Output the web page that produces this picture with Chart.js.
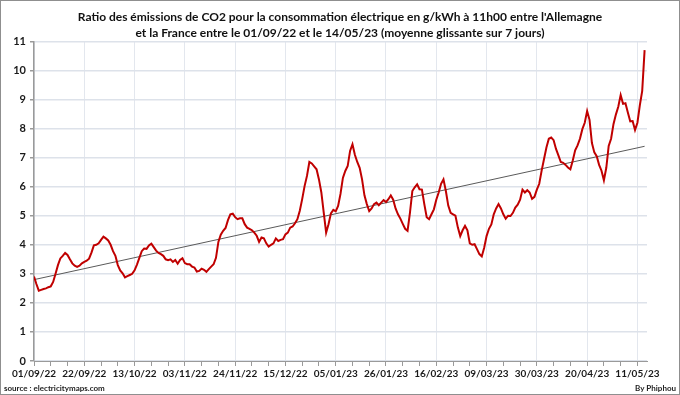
<!DOCTYPE html>
<html>
<head>
<meta charset="utf-8">
<script src="https://cdn.jsdelivr.net/npm/chart.js@4.4.1/dist/chart.umd.min.js"></script>
<style>
  html, body { margin: 0; padding: 0; background: #fff; }
  #wrap { position: relative; width: 680px; height: 395px; box-sizing: border-box; border: 1px solid #8f8f8f; }
</style>
</head>
<body>
<div id="wrap"><canvas id="ratioChart"></canvas></div>
<script>
// ── Data ── //
// day 0 = 01/09/22, one value per day up to 14/05/23 (day 255)
const startDate = Date.UTC(2022, 8, 1);

const ratio = [
  2.91, 2.65, 2.42, 2.45, 2.48, 2.50, 2.54, 2.57, 2.72, 3.00,   // 0-9
  3.30, 3.53, 3.62, 3.72, 3.65, 3.50, 3.36, 3.28, 3.24, 3.28,   // 10-19
  3.36, 3.41, 3.45, 3.52, 3.73, 3.98, 4.00, 4.05, 4.17, 4.28,   // 20-29
  4.22, 4.15, 4.00, 3.78, 3.62, 3.30, 3.12, 3.02, 2.88, 2.92,   // 30-39
  2.96, 3.00, 3.12, 3.32, 3.55, 3.78, 3.87, 3.86, 3.98, 4.04,   // 40-49
  3.92, 3.80, 3.72, 3.68, 3.62, 3.50, 3.47, 3.50, 3.41, 3.48,   // 50-59
  3.35, 3.48, 3.54, 3.37, 3.33, 3.33, 3.25, 3.22, 3.08, 3.10,   // 60-69
  3.18, 3.14, 3.07, 3.16, 3.25, 3.33, 3.55, 4.10, 4.35, 4.48,   // 70-79
  4.58, 4.85, 5.05, 5.07, 4.95, 4.88, 4.91, 4.91, 4.71, 4.59,   // 80-89
  4.55, 4.50, 4.42, 4.31, 4.10, 4.25, 4.22, 4.05, 3.94, 4.00,   // 90-99
  4.05, 4.22, 4.13, 4.17, 4.19, 4.36, 4.42, 4.59, 4.63, 4.74,   // 100-109
  4.88, 5.17, 5.57, 6.02, 6.37, 6.85, 6.80, 6.70, 6.60, 6.25,   // 110-119
  5.80, 5.11, 4.42, 4.71, 5.08, 5.20, 5.15, 5.34, 5.75, 6.30,   // 120-129
  6.54, 6.71, 7.23, 7.46, 7.10, 6.85, 6.65, 6.25, 5.70, 5.40,   // 130-139
  5.16, 5.25, 5.40, 5.45, 5.36, 5.45, 5.54, 5.47, 5.57, 5.70,   // 140-149
  5.55, 5.25, 5.05, 4.90, 4.72, 4.55, 4.48, 5.10, 5.85, 5.98,   // 150-159
  6.08, 5.91, 5.90, 5.40, 4.95, 4.88, 5.05, 5.22, 5.55, 5.80,   // 160-169
  6.10, 6.25, 5.85, 5.35, 5.10, 5.05, 5.00, 4.60, 4.30, 4.50,   // 170-179
  4.65, 4.50, 4.05, 4.00, 4.02, 3.85, 3.68, 3.60, 3.90, 4.30,   // 180-189
  4.55, 4.70, 5.05, 5.25, 5.40, 5.25, 5.05, 4.90, 5.00, 4.99,   // 190-199
  5.10, 5.28, 5.38, 5.55, 5.90, 5.80, 5.88, 5.80, 5.58, 5.65,   // 200-209
  5.90, 6.10, 6.55, 6.95, 7.35, 7.65, 7.69, 7.60, 7.30, 7.08,   // 210-219
  6.85, 6.82, 6.75, 6.66, 6.60, 6.90, 7.25, 7.42, 7.65, 7.98,   // 220-229
  8.20, 8.60, 8.30, 7.50, 7.18, 7.05, 6.75, 6.55, 6.22, 6.65,   // 230-239
  7.40, 7.65, 8.15, 8.48, 8.75, 9.15, 8.85, 8.87, 8.55, 8.25,   // 240-249
  8.26, 7.95, 8.20, 8.80, 9.30, 10.70                           // 250-255
];

// linear trend, start and end
const trendDays = [0, 255];
const trendValues = [2.80, 7.39];

const titleLines = [
  "Ratio des émissions de CO2 pour la consommation électrique en g/kWh à 11h00 entre l'Allemagne",
  "et la France entre le 01/09/22 et le 14/05/23 (moyenne glissante sur 7 jours)"
];
const sourceText = 'source : electricitymaps.com';
const authorText = 'By Phiphou';

function dayLabel(d) {
  const dt = new Date(startDate + d * 86400000);
  const dd = String(dt.getUTCDate()).padStart(2, '0');
  const mm = String(dt.getUTCMonth() + 1).padStart(2, '0');
  const yy = String(dt.getUTCFullYear()).slice(2);
  return `${dd}/${mm}/${yy}`;
}

// ── Footer texts ── //
const footerPlugin = {
  id: 'footerTexts',
  afterDraw(chart) {
    const c = chart.ctx;
    c.save();
    c.font = 'bold 8px Lato';
    c.fillStyle = '#222';
    c.textBaseline = 'middle';
    c.textAlign = 'left';
    c.fillText(sourceText, 3, 387);
    c.textAlign = 'right';
    c.fillText(authorText, 675, 387);
    c.restore();
  }
};

new Chart(document.getElementById('ratioChart'), {
  type: 'line',
  data: {
    datasets: [
      {
        label: 'Ratio',
        data: ratio.map((v, i) => ({ x: i, y: v })),
        borderColor: '#c00000',
        borderWidth: 2,
        pointRadius: 0,
        tension: 0,
      },
      {
        label: 'Tendance',
        data: trendDays.map((d, i) => ({ x: d, y: trendValues[i] })),
        borderColor: '#5a5a5a',
        borderWidth: 1,
        pointRadius: 0,
      },
    ],
  },
  options: {
    responsive: true,
    maintainAspectRatio: false,
    animation: false,
    layout: { padding: { left: 0, right: 0, top: 0, bottom: 13 } },
    scales: {
      x: {
        type: 'linear',
        min: 0,
        max: 256,
        afterFit: (s) => { s.height = 20; },
        ticks: {
          stepSize: 7,
          includeBounds: false,
          autoSkip: false,
          maxTicksLimit: 100,
          maxRotation: 0,
          padding: 2,
          color: '#1a1a1a',
          font: { family: 'Lato', size: 10, weight: 'bold' },
          callback: (v) => (v % 21 === 0 ? dayLabel(v) : ''),
        },
        grid: {
          color: (ctx) => (ctx.tick && ctx.tick.value % 21 === 0 ? '#e3e7ee' : 'rgba(0,0,0,0)'),
          tickColor: '#9a9a9a',
          tickLength: 5,
        },
        border: { color: '#9a9a9a', width: 1 },
      },
      y: {
        min: 0,
        max: 11,
        afterFit: (s) => { s.width = 33; },
        ticks: {
          stepSize: 1,
          padding: 4,
          color: '#1a1a1a',
          font: { family: 'Lato', size: 11, weight: 'bold' },
        },
        grid: {
          color: '#dde2ea',
          lineWidth: 1.5,
          tickColor: '#9a9a9a',
          tickLength: 4,
        },
        border: { color: '#9a9a9a', width: 1.5 },
      },
      // empty right-hand space so the title stays centred on the whole canvas
      yRight: {
        position: 'right',
        min: 0,
        max: 11,
        afterFit: (s) => { s.width = 32; },
        ticks: { display: false },
        grid: { display: false },
        border: { display: false },
      },
    },
    plugins: {
      legend: { display: false },
      tooltip: { enabled: false },
      title: {
        display: true,
        text: titleLines,
        color: '#111',
        font: { family: 'Lato', size: 12, weight: 'bold', lineHeight: 1.35 },
        padding: { top: 8, bottom: 0 },
      },
    },
  },
  plugins: [footerPlugin],
});
</script>
</body>
</html>
